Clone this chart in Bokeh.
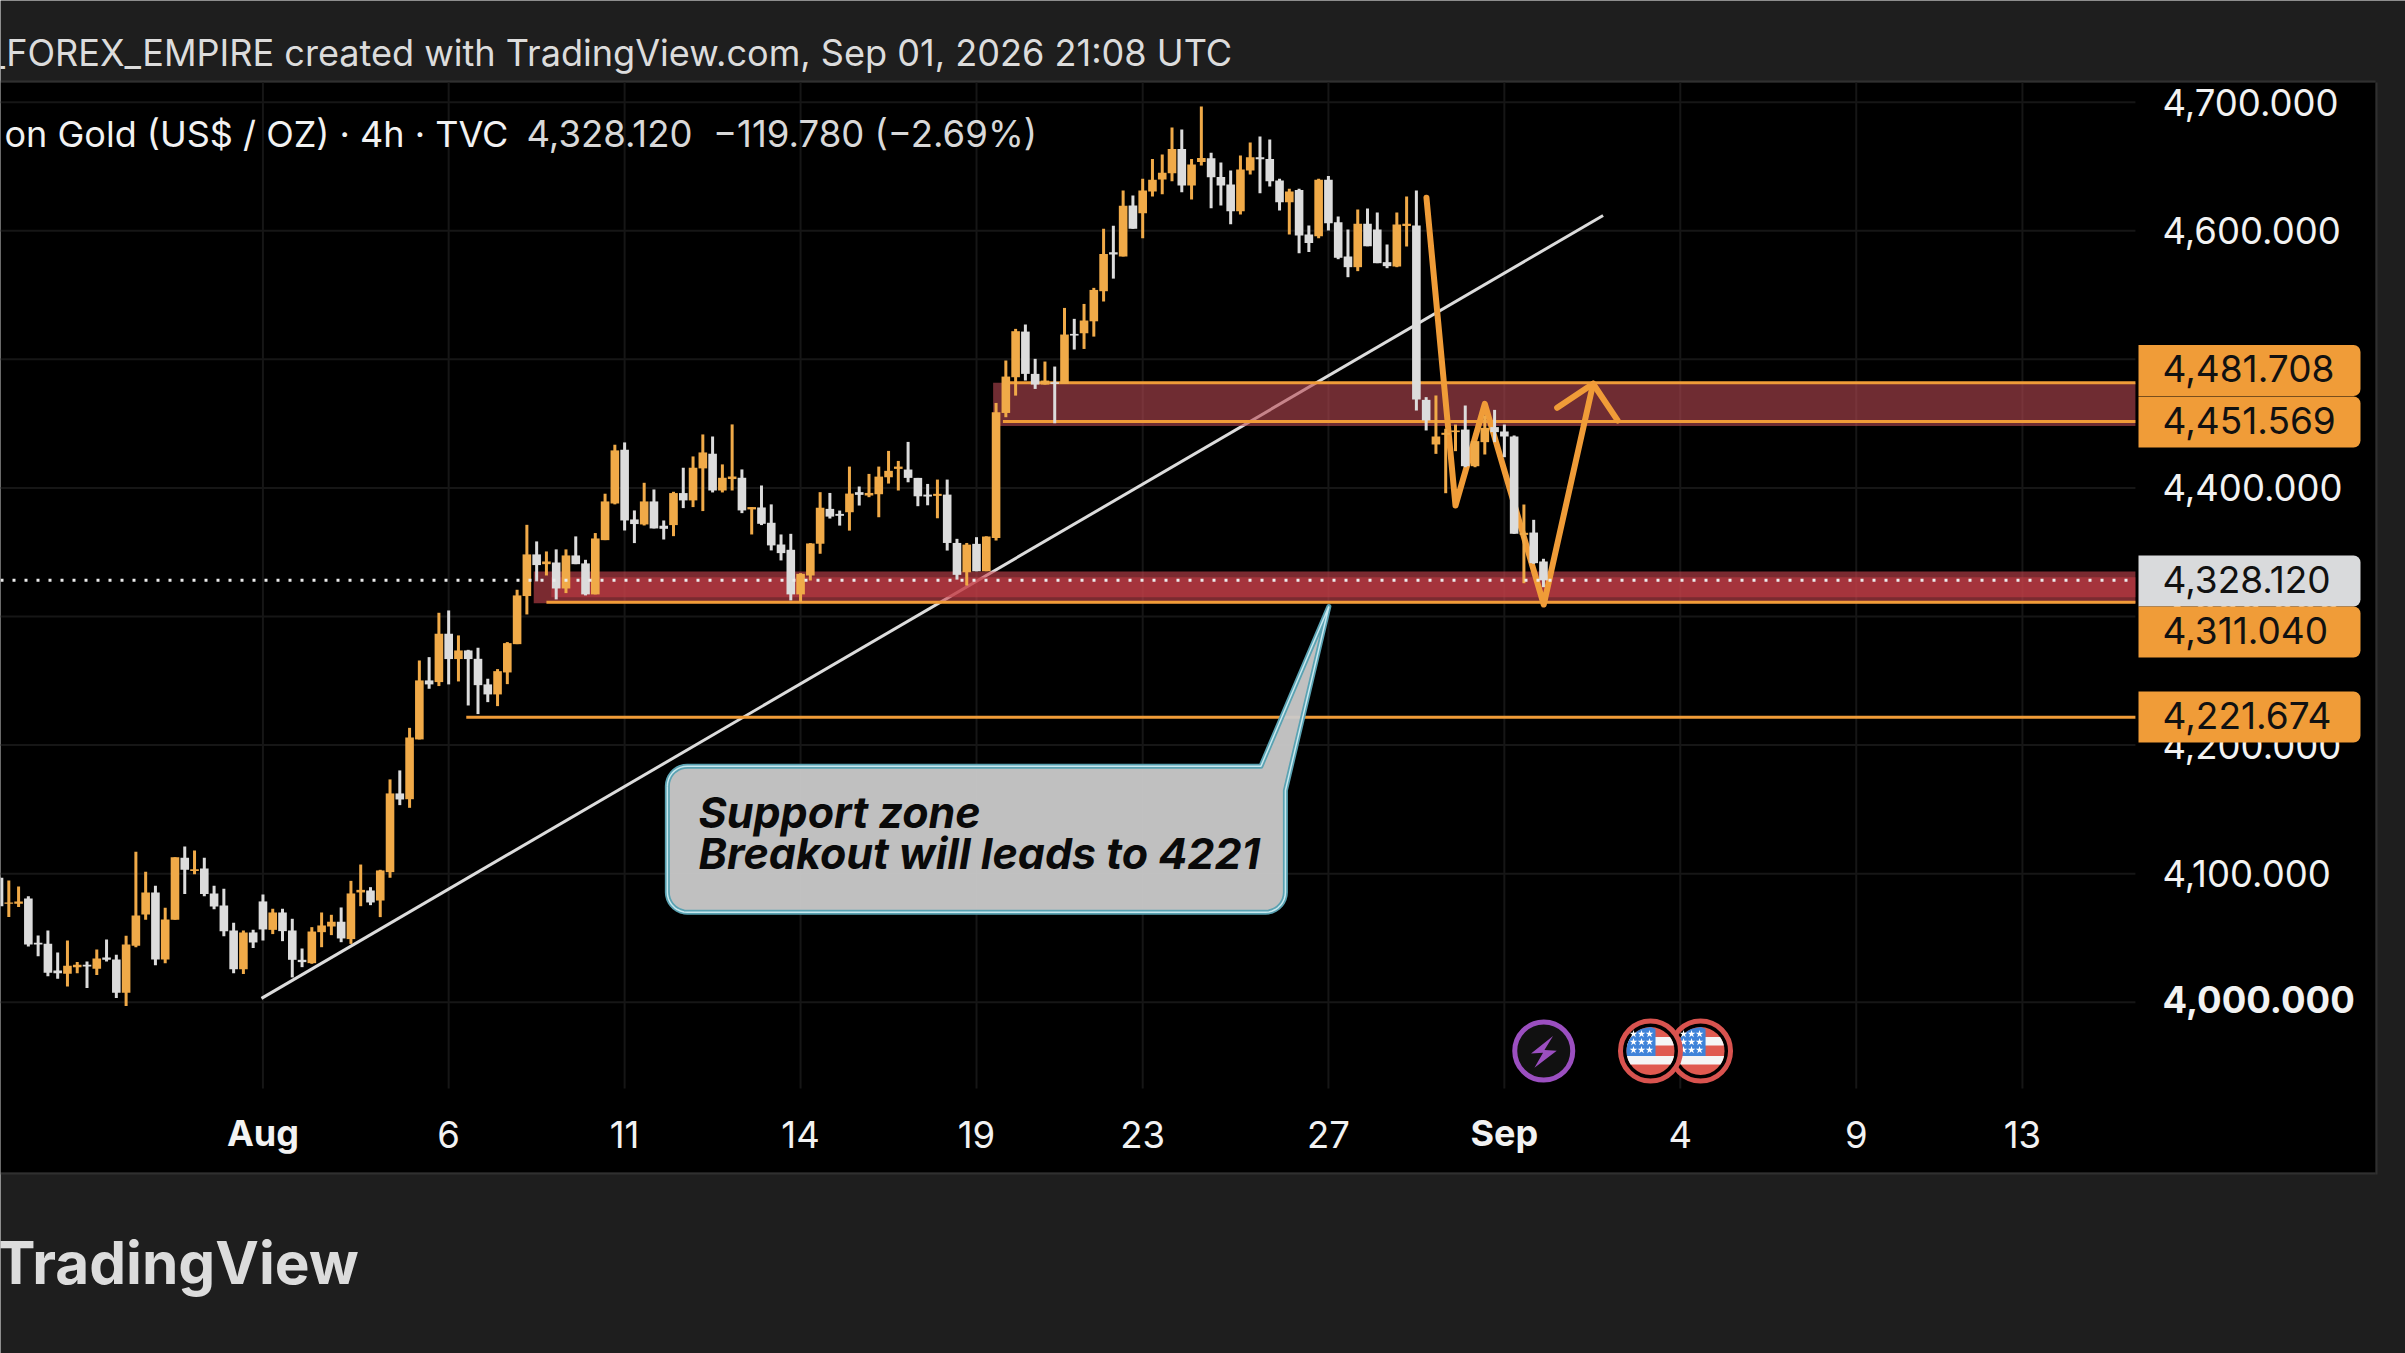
from bokeh.core.properties import value
from bokeh.embed import file_html
from bokeh.models import BoxAnnotation, ColumnDataSource, FixedTicker, Label, Range1d
from bokeh.plotting import figure
from bokeh.resources import INLINE
import numpy as np

bar_open = [
    4096.8,
    4076.6, 4076.6, 4080.7, 4046.2, 4045.4, 4024.7, 4022.1, 4027.3, 4029.1, 4026.0,
    4034.8, 4033.3, 4007.3, 4043.9, 4068.3, 4085.4, 4033.3, 4064.1, 4112.3, 4102.0,
    4104.0, 4084.6, 4075.3, 4055.8, 4025.7, 4054.3, 4078.4, 4056.3, 4069.8, 4055.8,
    4033.0, 4030.4, 4054.5, 4058.9, 4062.6, 4049.1, 4085.4, 4086.9, 4079.1, 4101.2,
    4162.4, 4157.9, 4204.4, 4250.3, 4249.0, 4286.6, 4266.9, 4273.6, 4267.1, 4247.2,
    4239.4, 4256.5, 4278.5, 4315.9, 4348.3, 4340.7, 4342.0, 4321.8, 4347.5, 4341.3,
    4317.2, 4359.4, 4387.9, 4429.7, 4375.5, 4371.6, 4389.5, 4370.6, 4371.1, 4396.0,
    4390.3, 4415.2, 4426.6, 4398.0, 4406.9, 4407.9, 4383.3, 4384.8, 4372.9, 4356.0,
    4351.9, 4317.2, 4331.9, 4356.6, 4383.7, 4379.8, 4381.1, 4396.7, 4394.1, 4395.1,
    4408.3, 4414.8, 4414.3, 4407.8, 4394.8, 4393.8, 4394.8, 4357.2, 4334.4, 4356.5,
    4335.2, 4361.1, 4458.3, 4486.1, 4521.6, 4488.7, 4480.4, 4482.2, 4480.9, 4519.8,
    4520.3, 4529.6, 4553.0, 4583.3, 4580.0, 4619.7, 4613.7, 4630.5, 4639.9, 4644.8,
    4663.7, 4635.2, 4653.4, 4656.5, 4641.9, 4636.0, 4615.2, 4646.9, 4657.2, 4655.9,
    4639.1, 4622.2, 4631.8, 4597.1, 4595.8, 4639.6, 4606.7, 4580.0, 4571.7, 4605.4,
    4601.0, 4575.6, 4572.2, 4603.8, 4604.1, 4468.5, 4433.8, 4441.3, 4443.4, 4445.4,
    4416.9, 4435.6, 4447.3, 4443.9, 4440.0, 4363.5, 4365.3, 4342.8,
]
bar_high = [
    4097.5,
    4094.7, 4090.0, 4082.5, 4051.9, 4055.8, 4038.7, 4048.0, 4031.2, 4031.7, 4041.0,
    4048.8, 4036.9, 4051.7, 4117.0, 4101.4, 4090.5, 4073.4, 4112.8, 4121.1, 4118.0,
    4112.3, 4090.5, 4088.2, 4061.8, 4055.8, 4056.3, 4083.8, 4072.7, 4072.7, 4064.9,
    4041.8, 4058.4, 4069.8, 4068.0, 4073.7, 4094.4, 4107.1, 4089.5, 4103.0, 4173.3,
    4180.3, 4213.4, 4265.8, 4268.4, 4302.9, 4304.7, 4285.3, 4274.1, 4275.7, 4251.6,
    4259.1, 4280.1, 4320.8, 4371.3, 4358.4, 4350.6, 4352.2, 4352.2, 4362.3, 4344.1,
    4364.9, 4395.5, 4433.6, 4435.4, 4382.5, 4404.0, 4398.8, 4374.7, 4397.0, 4415.7,
    4424.5, 4441.6, 4440.0, 4418.3, 4449.4, 4414.4, 4385.1, 4401.9, 4387.2, 4363.8,
    4364.3, 4333.7, 4357.1, 4396.7, 4396.1, 4382.4, 4416.6, 4401.1, 4410.9, 4416.6,
    4428.8, 4421.0, 4435.8, 4407.8, 4403.1, 4406.5, 4406.5, 4360.4, 4357.2, 4361.7,
    4362.4, 4466.1, 4499.1, 4523.7, 4527.1, 4500.4, 4498.3, 4494.4, 4540.0, 4531.5,
    4543.1, 4555.6, 4601.5, 4604.0, 4631.3, 4627.4, 4640.4, 4655.9, 4659.3, 4680.3,
    4678.8, 4655.9, 4696.7, 4660.6, 4653.1, 4646.9, 4658.5, 4668.7, 4673.3, 4671.0,
    4640.4, 4632.6, 4632.6, 4604.1, 4640.4, 4642.7, 4611.1, 4601.0, 4616.5, 4617.3,
    4614.2, 4589.3, 4614.2, 4626.7, 4631.3, 4470.6, 4471.9, 4446.0, 4449.3, 4464.1,
    4436.4, 4456.3, 4460.7, 4449.3, 4440.8, 4387.1, 4375.2, 4344.9,
]
bar_low = [
    4074.7,
    4066.2, 4074.0, 4043.4, 4035.8, 4020.3, 4018.2, 4012.3, 4022.6, 4011.0, 4021.1,
    4031.7, 4003.2, 3997.0, 4042.8, 4064.1, 4028.8, 4030.4, 4064.1, 4084.1, 4099.6,
    4082.5, 4072.4, 4051.4, 4022.6, 4021.9, 4042.1, 4048.0, 4053.0, 4047.5, 4019.3,
    4027.3, 4029.9, 4042.8, 4052.2, 4046.7, 4045.4, 4074.7, 4075.5, 4066.2, 4096.8,
    4153.3, 4151.2, 4204.4, 4243.8, 4245.9, 4247.2, 4249.5, 4230.8, 4224.1, 4233.4,
    4230.3, 4247.4, 4278.5, 4301.6, 4327.3, 4331.9, 4313.3, 4318.2, 4340.7, 4316.4,
    4317.2, 4359.4, 4387.2, 4366.9, 4357.1, 4370.8, 4368.5, 4359.9, 4362.5, 4384.3,
    4385.1, 4382.0, 4396.5, 4396.5, 4398.0, 4380.4, 4363.8, 4371.1, 4351.4, 4343.6,
    4312.5, 4311.2, 4328.0, 4348.8, 4376.2, 4370.7, 4366.8, 4386.3, 4392.8, 4377.2,
    4403.4, 4398.0, 4404.4, 4385.8, 4386.5, 4376.4, 4351.3, 4328.7, 4324.1, 4335.2,
    4335.2, 4359.1, 4455.0, 4471.8, 4483.5, 4477.0, 4480.4, 4450.3, 4480.9, 4507.6,
    4508.1, 4517.7, 4545.0, 4562.8, 4580.0, 4601.5, 4594.2, 4626.7, 4628.5, 4638.6,
    4630.0, 4624.3, 4650.8, 4617.6, 4619.7, 4605.1, 4612.7, 4643.8, 4629.2, 4634.4,
    4615.8, 4597.1, 4582.6, 4583.4, 4594.2, 4600.2, 4577.9, 4563.9, 4568.6, 4588.0,
    4574.8, 4570.9, 4571.7, 4587.8, 4460.2, 4444.7, 4426.5, 4395.9, 4428.6, 4416.1,
    4416.1, 4426.0, 4435.6, 4423.9, 4364.3, 4325.9, 4341.0, 4322.8,
]
bar_close = [
    4074.7,
    4077.6, 4078.4, 4044.9, 4044.9, 4022.9, 4022.6, 4028.3, 4029.1, 4027.8, 4034.0,
    4033.0, 4007.3, 4044.9, 4067.5, 4085.4, 4033.3, 4064.4, 4112.8, 4103.0, 4103.5,
    4084.1, 4074.5, 4055.3, 4025.7, 4054.3, 4046.5, 4056.6, 4069.8, 4055.3, 4033.0,
    4031.2, 4055.0, 4059.7, 4062.6, 4049.6, 4084.6, 4087.4, 4077.6, 4102.5, 4162.4,
    4157.7, 4205.9, 4250.3, 4247.2, 4286.6, 4266.9, 4273.6, 4266.9, 4246.6, 4239.4,
    4257.5, 4279.3, 4316.4, 4348.3, 4340.0, 4342.8, 4321.8, 4347.5, 4340.7, 4317.2,
    4360.7, 4389.5, 4429.2, 4374.7, 4371.9, 4389.5, 4368.5, 4368.2, 4396.0, 4390.3,
    4415.7, 4427.6, 4398.0, 4407.9, 4408.9, 4382.5, 4385.1, 4372.1, 4355.3, 4349.3,
    4317.2, 4333.2, 4356.8, 4384.6, 4377.7, 4378.3, 4395.6, 4394.6, 4396.1, 4408.8,
    4413.3, 4416.6, 4407.8, 4393.5, 4393.3, 4395.4, 4357.2, 4332.4, 4355.9, 4335.2,
    4362.2, 4458.9, 4486.6, 4521.9, 4488.7, 4480.4, 4483.5, 4480.9, 4519.3, 4518.5,
    4530.2, 4554.0, 4582.0, 4581.5, 4619.4, 4601.5, 4631.3, 4639.6, 4645.1, 4663.7,
    4635.2, 4651.5, 4656.7, 4641.7, 4635.2, 4615.2, 4647.7, 4657.2, 4655.7, 4638.6,
    4622.2, 4630.5, 4596.3, 4590.4, 4639.6, 4605.9, 4579.0, 4571.7, 4605.4, 4588.0,
    4574.8, 4572.5, 4604.9, 4605.4, 4468.8, 4452.5, 4440.0, 4442.9, 4444.7, 4416.9,
    4436.4, 4446.7, 4443.4, 4440.0, 4364.3, 4365.1, 4341.5, 4328.12,
]

# time axis: bar number of each tick
time_ticks = [27, 46, 64, 82, 100, 117, 136, 154, 172, 190, 207]
time_labels = ["Aug", "6", "11", "14", "19", "23", "27", "Sep", "4", "9", "13"]
price_ticks = [4000, 4100, 4200, 4300, 4400, 4500, 4600, 4700]

last_price = 4328.12
zone_hi_top, zone_hi_bottom = 4481.708, 4451.569
zone_lo_line = 4311.04
target_line = 4221.674

trend_x = [26.85, 164.1]
trend_y = [4003.0, 4611.9]
zigzag_x = [146.03, 149.0, 152.0, 158.03, 163.08]
zigzag_y = [4625.7, 4386.3, 4465.4, 4309.3, 4481.0]
arrow_x = [159.4, 163.08, 165.6]
arrow_y = [4462.3, 4481.0, 4452.4]

ORANGE = "#f09c38"
CANDLE_UP = "#f0aa48"
CANDLE_DOWN = "#dcdcdc"
PANEL = "#1e1e1e"
FONT = "Inter"

# pixels per bar / per dollar, for the shapes that are sized in pixels
PX_X = 9.775
PX_Y = 1.2857
# where the chart pane ends: right edge, bottom and top in data units
X0, X1 = 0.15, 218.56
Y_BOTTOM, Y_TOP = 3932.9, 4715.3

# the frame takes the whole canvas so the scale panels and headers can be drawn on it
p = figure(width=2405, height=1353, output_backend="svg", toolbar_location=None,
           x_range=Range1d(X0, 246.19), y_range=Range1d(3726.8, 4779.1),
           y_axis_location="right", min_border_left=0, min_border_top=0,
           min_border_right=0, min_border_bottom=0,
           background_fill_color=PANEL, border_fill_color=PANEL)
p.outline_line_color = None
p.grid.visible = False

p.xaxis.ticker = FixedTicker(ticks=time_ticks)
p.yaxis.ticker = FixedTicker(ticks=price_ticks)
p.xaxis.fixed_location = Y_BOTTOM
p.yaxis.fixed_location = X1
p.xaxis.major_label_overrides = {t: ("" if l in ("Aug", "Sep") else l) for t, l in zip(time_ticks, time_labels)}
p.yaxis.major_label_overrides = {t: ("" if t == 4000 else f"{t:,.3f}") for t in price_ticks}
for ax in (p.xaxis, p.yaxis):
    ax.axis_line_color = None
    ax.major_tick_line_color = None
    ax.minor_tick_line_color = None
    ax.major_label_text_color = "#f2f2f2"
    ax.major_label_text_font = FONT
    ax.major_label_text_font_size = "36.5px"
p.xaxis.major_label_standoff = 26
p.yaxis.major_label_standoff = 21


def canvas_box(left, right, top, bottom, color, level="overlay", radius=0):
    box = BoxAnnotation(left=left, right=right, top=top, bottom=bottom,
                        left_units="canvas", right_units="canvas", top_units="canvas", bottom_units="canvas",
                        fill_color=color, fill_alpha=1, line_color=None, level=level, border_radius=radius)
    p.add_layout(box)


def canvas_text(x, y, text, color="#f2f2f2", size="36px", style="normal", font=FONT, baseline="middle"):
    p.add_layout(Label(x=x, y=y, x_units="canvas", y_units="canvas", text=text, text_color=color,
                       text_font=font, text_font_size=size, text_font_style=style,
                       text_baseline=baseline, level="overlay"))


# black price and time scale panels
canvas_box(0, 2375, 82, 1172, "black", level="underlay")
canvas_box(0, 2375, 80, 82, "#303030", level="underlay")
canvas_box(0, 2375, 1172, 1174, "#303030", level="underlay")
canvas_box(2375, 2377, 82, 1174, "#303030", level="underlay")

# grid, only as far as the chart pane
p.segment(x0=time_ticks, x1=time_ticks, y0=[Y_BOTTOM] * len(time_ticks), y1=[Y_TOP] * len(time_ticks),
          line_color="#161616", line_width=2)
p.segment(x0=[X0] * len(price_ticks), x1=[X1] * len(price_ticks), y0=price_ticks, y1=price_ticks,
          line_color="#161616", line_width=2)

# drawings under the candles
p.line(trend_x, trend_y, line_color="#dcdcdc", line_width=3)
p.quad(left=[101.7], right=[X1], top=[zone_hi_top], bottom=[4448.2], fill_color="#b94953", fill_alpha=0.6, line_color=None)
p.quad(left=[54.7], right=[X1], top=[4335.0], bottom=[4310.4], fill_color="#cc4650", fill_alpha=0.6, line_color=None)
p.quad(left=[56.5], right=[X1], top=[4330.6], bottom=[4315.0], fill_color="#c23c45", fill_alpha=0.6, line_color=None)
for level, start in [(zone_hi_top, 103), (zone_hi_bottom, 102.7), (zone_lo_line, 56), (target_line, 47.8)]:
    p.line([start, X1], [level, level], line_color=ORANGE, line_width=3)
p.line(zigzag_x, zigzag_y, line_color=ORANGE, line_width=6, line_cap="round", line_join="round")
p.line(arrow_x, arrow_y, line_color=ORANGE, line_width=6, line_cap="round", line_join="round")

# candles
bars = np.arange(len(bar_close))
source = ColumnDataSource(data=dict(
    x=bars, o=bar_open, h=bar_high, l=bar_low, c=bar_close,
    top=np.maximum(bar_open, bar_close), bottom=np.minimum(bar_open, bar_close),
    color=[CANDLE_UP if c >= o else CANDLE_DOWN for o, c in zip(bar_open, bar_close)],
))
p.segment(x0="x", x1="x", y0="l", y1="h", line_color="color", line_width=3, source=source)
p.vbar(x="x", width=0.88, top="top", bottom="bottom", fill_color="color", line_color=None, source=source)

# last price
p.line([X0, X1], [last_price, last_price], line_color="#ececec", line_width=3, line_dash="3 9")

# callout
c_left, c_right, c_top, c_bottom = 68.37, 131.6, 4183.6, 4070.0
tip_x, tip_y = 136.05, 4307.8
root_x, root_y = 129.1, 4164.7
rx, ry = 20 / PX_X, 20 / PX_Y


def arc(cx, cy, a0, a1):
    a = np.radians(np.linspace(a0, a1, 10))
    return list(cx + rx * np.cos(a)), list(cy + ry * np.sin(a))


xs, ys = [], []
for part in [arc(c_left + rx, c_top - ry, 180, 90),
             ([root_x, tip_x, c_right], [c_top, tip_y, root_y]),
             arc(c_right - rx, c_bottom + ry, 0, -90),
             arc(c_left + rx, c_bottom + ry, -90, -180)]:
    xs += part[0]
    ys += part[1]
p.patch(xs, ys, fill_color="#cacaca", fill_alpha=0.95, line_color="#5aa2b2", line_width=5, line_join="round")
p.line(xs + xs[:1], ys + ys[:1], line_color="#c8e8ef", line_width=1.5)
p.text([71.56, 71.56], [4147.8, 4115.7], text=["Support zone", "Breakout will leads to 4221"],
       text_font=value(FONT), text_font_style="bold italic", text_font_size="43px",
       text_color="#0a0a0a", text_baseline="alphabetic")

# event icons
icon_y = 3962.0
bolt_px = [(9.3, -15), (-12.7, 2.3), (-0.7, 1.7), (-9.3, 16.7), (13, -0.3), (0.7, -1)]
p.scatter([158.03], [icon_y], marker="circle", size=58, fill_color="#111111", line_color="#9b4fc0", line_width=5)
p.patch([158.03 + b[0] / PX_X for b in bolt_px], [icon_y - b[1] / PX_Y for b in bolt_px], fill_color="#9b4fc0", line_color=None)


def disc_band(cx, y0, y1, R=24, xmax=None):
    # part of the flag disc between two heights, in pixels from its centre
    hs = np.linspace(y0, y1, 16)
    half = np.sqrt(np.maximum(R ** 2 - hs ** 2, 0))
    right = half if xmax is None else np.minimum(half, xmax)
    xx = np.concatenate([right, -half[::-1]])
    yy = np.concatenate([hs, hs[::-1]])
    return cx + xx / PX_X, icon_y - yy / PX_Y


def us_flag(cx):
    p.scatter([cx], [icon_y], marker="circle", size=60, fill_color="black", line_color="#d9534f", line_width=5)
    p.scatter([cx], [icon_y], marker="circle", size=48, fill_color="#e05a50", line_color=None)
    for y0, y1 in [(-14, -5.7), (5, 13.3)]:
        bx, by = disc_band(cx, y0, y1)
        p.patch(bx, by, fill_color="#f5f5f5", line_color=None)
    bx, by = disc_band(cx, -24, 5, xmax=5)
    p.patch(bx, by, fill_color="#3f83d9", line_color=None)
    star_x = [cx + d / PX_X for d in (-17, -9, -1) for _ in range(3)]
    star_y = [icon_y - d / PX_Y for _ in range(3) for d in (-17, -9, -1)]
    p.scatter(star_x, star_y, marker="star", size=8, fill_color="white", line_color=None)


us_flag(174.07)
us_flag(168.95)

# top and bottom texts
canvas_text(-12, 52.5, "_FOREX_EMPIRE created with TradingView.com, Sep 01, 2026 21:08 UTC", color="#dcdcdc", size="36.1px")
canvas_text(4, 133.5, "on Gold (US$ / OZ) · 4h · TVC", color="#f2f2f2")
canvas_text(526, 133.5, "4,328.120\u00a0\u00a0−119.780 (−2.69%)", color="#d8d8d8", size="36.5px")
canvas_text(-4, 1262, "TradingView", color="#dcdcdc", size="58.5px", style="bold", baseline="alphabetic")

# bold scale labels
for t, lab in zip(time_ticks, time_labels):
    if lab in ("Aug", "Sep"):
        p.add_layout(Label(x=t, y=1132.5, y_units="canvas", text=lab, text_color="#f2f2f2", text_font=FONT,
                           text_font_size="36px", text_font_style="bold", text_align="center",
                           text_baseline="middle", level="overlay"))
canvas_text(2162, 999, "4,000.000", style="bold", size="36.5px")

# price tags on the scale
tag_values = [zone_hi_top, zone_hi_bottom, last_price, zone_lo_line, target_line]
tag_centres = [370, 421.5, 580.5, 631.5, 716.5]
tag_colors = [ORANGE, ORANGE, "#d9dadc", ORANGE, ORANGE]
for val, yc, col in zip(tag_values, tag_centres, tag_colors):
    canvas_box(2138, 2360, yc - 25.5, yc + 25.5, col, radius=(0, 7, 7, 0))
    canvas_text(2162, yc - 2, f"{val:,.3f}", color="#111111", size="37px")

open("out.html", "w").write(file_html(p, INLINE))
